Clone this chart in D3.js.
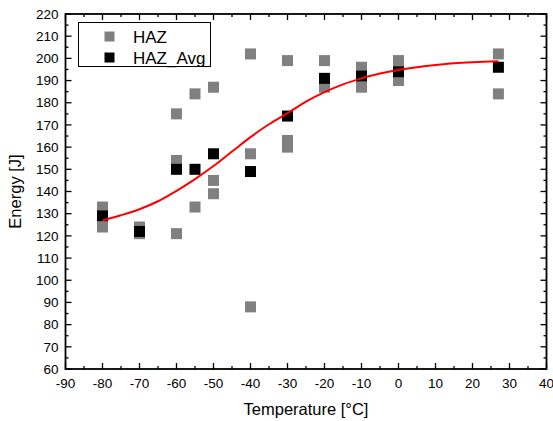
<!DOCTYPE html>
<html><head><meta charset="utf-8">
<script src="https://cdn.jsdelivr.net/npm/d3@7"></script>
<style>body{margin:0;background:#fff}svg{display:block}</style>
</head><body>
<script>
const hazX = [-80,-80,-70,-70,-60,-60,-60,-55,-55,-50,-50,-50,-40,-40,-40,-30,-30,-30,-20,-20,-10,-10,0,0,27,27];
const hazY = [133,124,124,121,121,154,175,184,133,187,145,139,202,157,88,199,163,160,199,187,196,187,199,190,202,184];
const avgX = [-80,-70,-60,-55,-50,-40,-30,-20,-10,0,27];
const avgY = [129,122,150,150,157,149,174,191,192,194,196];
const fitX = [-80,-75,-70,-65,-60,-55,-50,-45,-40,-35,-30,-25,-20,-15,-10,-5,0,5,10,15,20,27];
const fitY = [127,129.3,132,135.6,140.3,145.6,151.5,158,164.5,170.3,175.3,180.5,184.8,188.3,191,193.2,194.8,196,197,197.8,198.3,198.7];
const xTicks = [-90,-80,-70,-60,-50,-40,-30,-20,-10,0,10,20,30,40];
const yTicks = [60,70,80,90,100,110,120,130,140,150,160,170,180,190,200,210,220];

const W=553,H=421, L=65.5, R=546.5, T=14, B=369;
const svg=d3.select("body").append("svg").attr("width",W).attr("height",H);
const x=d3.scaleLinear().domain([-90,40]).range([L,R]);
const y=d3.scaleLinear().domain([60,220]).range([B,T]);
const font="'Liberation Sans', Arial, sans-serif";

// ticks
const g=svg.append("g").attr("stroke","#000").attr("stroke-width",1.3);
const xMinor=d3.range(-85,40,10), yMinor=d3.range(65,220,10);
xTicks.forEach(v=>{g.append("line").attr("x1",x(v)).attr("x2",x(v)).attr("y1",B).attr("y2",B-6);
  g.append("line").attr("x1",x(v)).attr("x2",x(v)).attr("y1",T).attr("y2",T+6);});
xMinor.forEach(v=>{g.append("line").attr("x1",x(v)).attr("x2",x(v)).attr("y1",B).attr("y2",B-3);
  g.append("line").attr("x1",x(v)).attr("x2",x(v)).attr("y1",T).attr("y2",T+3);});
yTicks.forEach(v=>{g.append("line").attr("y1",y(v)).attr("y2",y(v)).attr("x1",L).attr("x2",L+6);
  g.append("line").attr("y1",y(v)).attr("y2",y(v)).attr("x1",R).attr("x2",R-6);});
yMinor.forEach(v=>{g.append("line").attr("y1",y(v)).attr("y2",y(v)).attr("x1",L).attr("x2",L+3);
  g.append("line").attr("y1",y(v)).attr("y2",y(v)).attr("x1",R).attr("x2",R-3);});

svg.append("rect").attr("x",L).attr("y",T).attr("width",R-L).attr("height",B-T)
  .attr("fill","none").attr("stroke","#000").attr("stroke-width",1.8);

// tick labels
svg.append("g").selectAll("text").data(xTicks).join("text")
  .attr("x",d=>x(d)).attr("y",B+19).attr("text-anchor","middle")
  .attr("font-family",font).attr("font-size",13.5).text(d=>d);
svg.append("g").selectAll("text").data(yTicks).join("text")
  .attr("x",L-7).attr("y",d=>y(d)+4.7).attr("text-anchor","end")
  .attr("font-family",font).attr("font-size",13.5).text(d=>d);

// axis titles
svg.append("text").attr("x",(L+R)/2).attr("y",H-6).attr("text-anchor","middle")
  .attr("font-family",font).attr("font-size",16.5).text("Temperature [°C]");
svg.append("text").attr("transform",`translate(21,${(T+B)/2}) rotate(-90)`).attr("text-anchor","middle")
  .attr("font-family",font).attr("font-size",16.5).text("Energy [J]");

const s=11;
// HAZ
svg.append("g").selectAll("rect").data(hazX.map((d,i)=>[d,hazY[i]])).join("rect")
  .attr("x",d=>x(d[0])-s/2).attr("y",d=>y(d[1])-s/2).attr("width",s).attr("height",s)
  .attr("fill","#808080");
// Avg
svg.append("g").selectAll("rect").data(avgX.map((d,i)=>[d,avgY[i]])).join("rect")
  .attr("x",d=>x(d[0])-s/2).attr("y",d=>y(d[1])-s/2).attr("width",s).attr("height",s)
  .attr("fill","#000");
// fit
svg.append("path").datum(fitX.map((d,i)=>[d,fitY[i]]))
  .attr("d",d3.line().x(d=>x(d[0])).y(d=>y(d[1])).curve(d3.curveMonotoneX))
  .attr("fill","none").attr("stroke","#ff0000").attr("stroke-width",2);

// legend
const lg=svg.append("g");
lg.append("rect").attr("x",78.5).attr("y",22.5).attr("width",132).attr("height",44)
  .attr("fill","#fff").attr("stroke","#000").attr("stroke-width",1);
lg.append("rect").attr("x",109.5-5).attr("y",36.5-5).attr("width",10).attr("height",10).attr("fill","#808080");
lg.append("rect").attr("x",109.5-5).attr("y",57.5-5).attr("width",10).attr("height",10).attr("fill","#000");
lg.append("text").attr("x",133).attr("y",42.5).attr("font-family",font).attr("font-size",17).text("HAZ");
lg.append("text").attr("x",133).attr("y",63.5).attr("font-family",font).attr("font-size",17).text("HAZ_Avg");
</script>
</body></html>
